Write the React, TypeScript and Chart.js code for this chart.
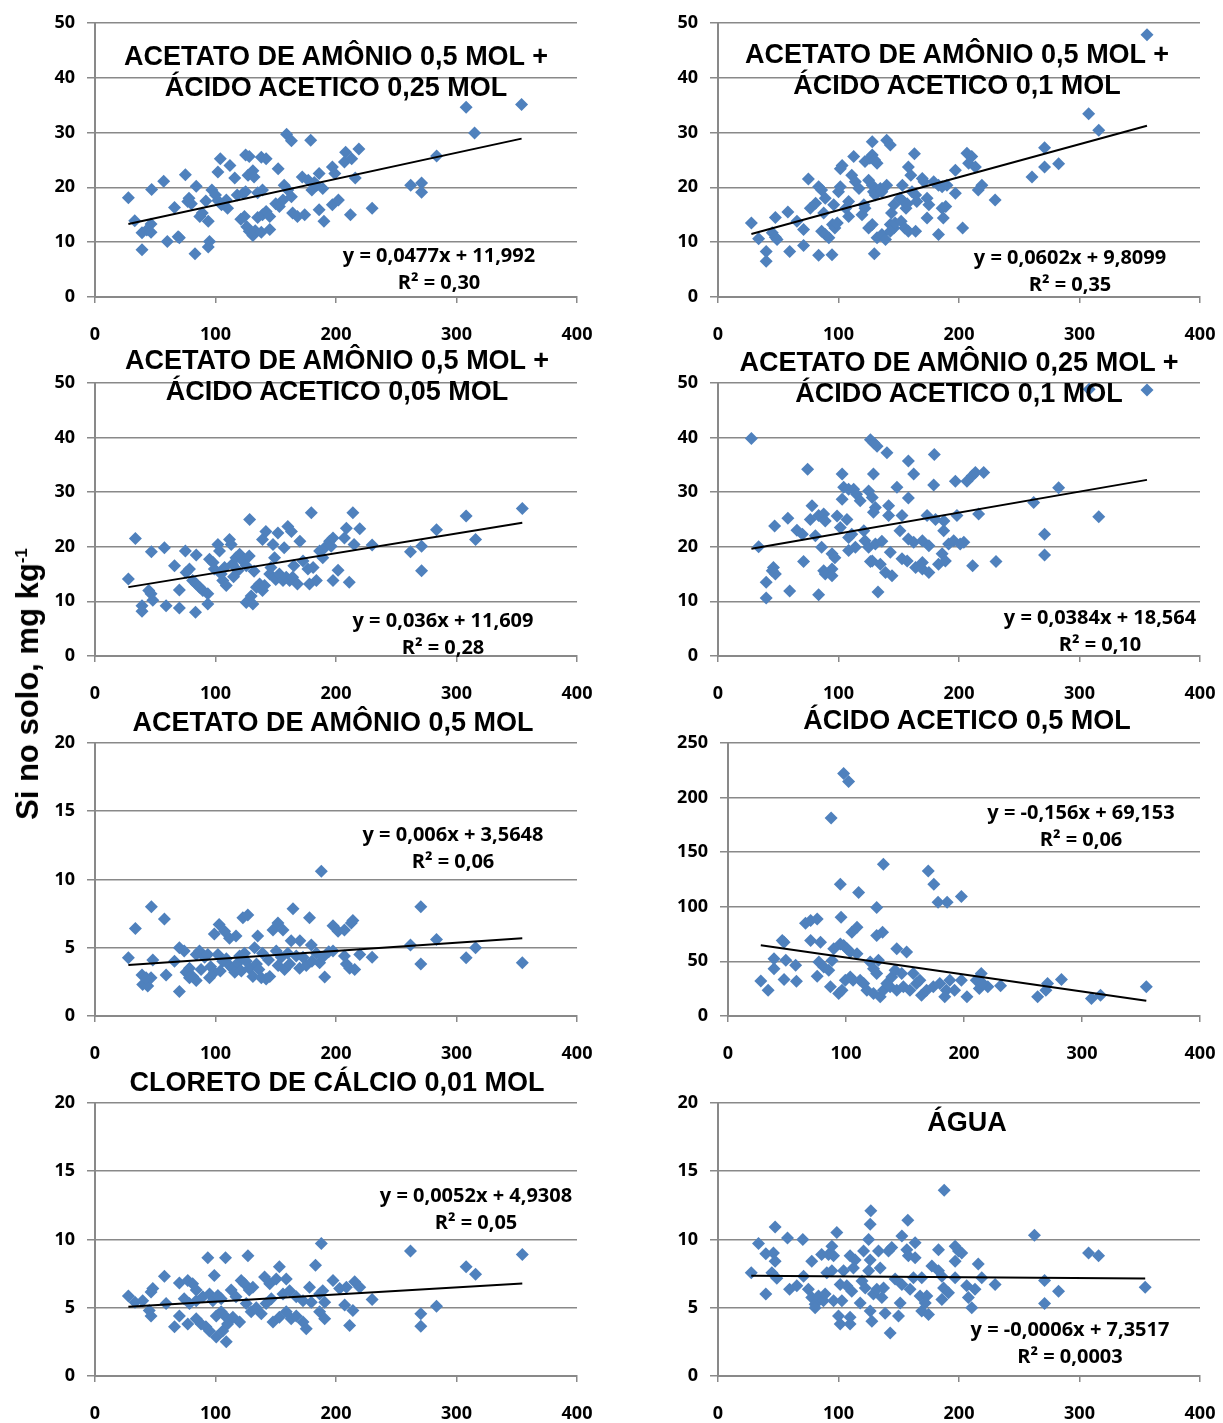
import React, { useEffect, useRef } from 'react';
import { Chart, registerables } from 'chart.js';

Chart.register(...registerables);

// ---------- DATA ----------
const titles: string[][] = [
  ['ACETATO DE AMÔNIO 0,5 MOL +', 'ÁCIDO ACETICO 0,25 MOL'],
  ['ACETATO DE AMÔNIO 0,5 MOL +', 'ÁCIDO ACETICO 0,1 MOL'],
  ['ACETATO DE AMÔNIO 0,5 MOL +', 'ÁCIDO ACETICO 0,05 MOL'],
  ['ACETATO DE AMÔNIO 0,25 MOL +', 'ÁCIDO ACETICO 0,1 MOL'],
  ['ACETATO DE AMÔNIO 0,5 MOL'],
  ['ÁCIDO ACETICO 0,5 MOL'],
  ['CLORETO DE CÁLCIO 0,01 MOL'],
  ['ÁGUA'],
];

const slopes = [0.0477, 0.0602, 0.036, 0.0384, 0.006, -0.156, 0.0052, -0.0006];
const intercepts = [11.992, 9.8099, 11.609, 18.564, 3.5648, 69.153, 4.9308, 7.3517];
const equationLabels = [
  'y = 0,0477x + 11,992',
  'y = 0,0602x + 9,8099',
  'y = 0,036x + 11,609',
  'y = 0,0384x + 18,564',
  'y = 0,006x + 3,5648',
  'y = -0,156x + 69,153',
  'y = 0,0052x + 4,9308',
  'y = -0,0006x + 7,3517',
];
const r2Labels = ['R² = 0,30', 'R² = 0,35', 'R² = 0,28', 'R² = 0,10', 'R² = 0,06', 'R² = 0,06', 'R² = 0,05', 'R² = 0,0003'];

const yMaxes = [50, 50, 50, 50, 20, 250, 20, 20];
const ySteps = [10, 10, 10, 10, 5, 50, 5, 5];
const xMin = 0;
const xMax = 400;
const xStep = 100;
const yAxisTitle = 'Si no solo, mg kg';

const p1: number[][] = [[27.7,18.1],[33,13.9],[39,11.7],[39,8.6],[43,12.2],[46.5,13.3],[46.5,11.8],[47,19.6],[57,21.1],[60,10.1],[66,16.3],[69,11],[70,10.8],[75,22.3],[77,17.4],[78,18],[80,17],[84,20.2],[83,7.9],[87,14.7],[89,15.3],[92,17.5],[94,13.8],[95,10.1],[94,9.1],[97,19.5],[100,18.6],[102,17.6],[102,22.8],[104,25.2],[112,24],[109,17.7],[110,16.2],[105,16.8],[116,21.7],[118,18.6],[123,18.9],[125,19.2],[125,25.9],[128,25.6],[127,22.2],[131,23],[132,21.9],[121,14.2],[124,14.7],[126,12.8],[128,12],[131,11.2],[133,12.1],[135,19],[138,25.5],[142,25.2],[139,19.5],[135,14.5],[139,15],[142,15.6],[145,14.7],[145,12.3],[138,11.8],[152,23.4],[150,17],[153,16.5],[156,17.7],[159,29.7],[163,28.5],[157,20.4],[160,19.5],[163,18.3],[164,15.3],[168,14.7],[174,15],[172,21.9],[177,21.3],[179,28.6],[180,19.5],[184,20.4],[189,19.8],[186,22.5],[182,20.9],[186,15.9],[190,13.8],[197,23.7],[199,22.5],[197,16.8],[202,17.7],[208,26.4],[207,24.6],[213,25.2],[212,15],[216,21.7],[219,27],[230,16.2],[262,20.4],[271,20.8],[271,19.1],[283.5,25.7],[308,34.6],[315,29.9],[354,35.1]];

const p2: number[][] = [[27.7,13.5],[33.7,10.6],[40,8.3],[40,6.5],[45,11.7],[47.6,10.9],[49,10.5],[47.6,14.5],[58,15.5],[59.5,8.3],[65.5,13.8],[71,12.3],[71,9.4],[75,21.5],[76.6,16.2],[81,17.1],[83.5,20.1],[86,19.5],[86,12],[89,11.4],[92,10.8],[83.5,7.6],[94.6,7.7],[87.7,15.3],[89,18],[95,13.2],[97,12.6],[99,13.5],[96,16.8],[100,19.2],[101.5,20.1],[103,24],[101.5,23.4],[106,16.2],[108.4,17.4],[108.4,14.7],[111,22.2],[114,21],[117,19.8],[112.6,25.6],[119.5,15],[122,16.2],[121,16.8],[122,24.7],[126,25.3],[128,25.9],[130,25],[132,24.4],[128,28.3],[125,21.3],[128,20.4],[129,19.2],[130.5,18.6],[125,12.6],[128,13.2],[129.7,7.9],[132,10.8],[136,11.4],[139,10.5],[134.7,19.8],[136,19.2],[140,20.4],[140,28.6],[143,27.7],[143,13.2],[146,12.6],[143,12],[147,13.5],[144,15.3],[146,16.8],[151,18],[153,20.4],[154,17.4],[156,16.2],[157,17],[152,13.8],[155,12.6],[158,12],[164,12],[158,23.7],[160,22.2],[163,26.1],[161,19.2],[164,18.6],[165,17.4],[169.5,21.6],[171,21],[173.5,18],[175,16.8],[173.5,14.4],[179,21],[183,20.4],[186,20.1],[190,20.4],[183,11.4],[186,16.2],[189,16.5],[187,14.4],[197,23.1],[197,18.9],[203,12.6],[206.6,26.2],[210.6,25.6],[208,24.4],[213.6,23.7],[216,19.5],[219,20.4],[230,17.7],[260.6,21.9],[271,27.2],[271,23.7],[282.7,24.3],[307.6,33.4],[316,30.4],[356,47.8]];

const p3: number[][] = [[27.7,14.1],[33.5,21.5],[39,9.2],[39,8.2],[44.6,12],[46.5,11.4],[48,10.2],[46.8,19.1],[57.6,19.8],[59,9.2],[66,16.5],[70,12.1],[70,8.8],[75,19.2],[75.6,15.3],[78.4,15.9],[81,13.8],[84,13.2],[83.4,8],[84,18.5],[86.7,12.6],[89.5,12],[93.6,11.4],[93.6,9.5],[95,17.7],[98,17.1],[99,15.9],[102,20.4],[103.3,19.2],[104.7,15],[106,13.8],[108.9,12.9],[107.5,16.2],[111.6,21.3],[113,20.4],[114,16.8],[117,18],[120,18.6],[118.6,15.6],[115,14.5],[122.7,17.4],[125.5,16.5],[128,18.3],[128.3,25],[125.5,9.8],[131,9.5],[129.6,11],[132,15.5],[134,12.6],[136.6,13.2],[139,12],[140.7,12.9],[139,21.3],[141.8,22.8],[145,15],[146,16.2],[147.7,20.4],[149,18],[150,14],[151.8,22.5],[153,15],[156,13.8],[158.7,14.4],[160,23.7],[157,19.8],[163,22.8],[161.5,13.8],[164,14.4],[165,16.5],[168,13.2],[170,21],[172.6,17.4],[176.7,15.9],[178,13.2],[179.5,26.2],[181,16.2],[183.7,13.8],[186.4,19.2],[189,18],[190.6,19.8],[194.7,21],[196,20.1],[197.5,21.6],[197.5,13.8],[201.7,15.7],[207,21.6],[208.6,23.4],[214,26.2],[215,20.4],[211,13.5],[219.7,23.3],[230,20.3],[261.8,19.1],[271,20.1],[271,15.6],[283.4,23.1],[308,25.6],[315.8,21.3],[354.6,27]];

const p4: number[][] = [[27.7,39.8],[33.7,20],[40,13.5],[40,10.6],[47,23.8],[45,15.6],[47.6,15],[46,16.2],[58,25.2],[59.5,11.9],[65.5,23],[70,22.3],[71,17.3],[74.4,34.2],[78,27.5],[76.6,25],[80.8,22],[83.5,25.7],[87.7,26],[89,24.7],[83.5,11.2],[86,19.9],[87.7,15.6],[89,15],[94.6,18.7],[97,18],[94.6,15.9],[94.6,14.7],[98.8,25.6],[101.5,23.5],[103,28.7],[107,25],[103,33.3],[104.3,30.9],[108.4,30.5],[112.6,30.5],[115,29.6],[108.4,21.7],[111,22.3],[114,19.9],[108.4,19.3],[118,28.4],[121,22.9],[126.5,39.6],[129.3,39],[132,38.4],[125,30.2],[128,29],[129,33.3],[130.6,27.2],[129,26.3],[122,21.1],[125,19.9],[130.6,20.5],[128,17.4],[126.5,17.3],[132.8,11.7],[134.7,16.8],[139,15.3],[144.4,14.7],[136,21],[140.2,37.2],[141.6,27.5],[141.6,25.7],[143,19],[148.5,30.9],[152.7,25.7],[151,22.9],[152.7,17.8],[157,17.4],[158,35.7],[162.4,33.3],[158,28.9],[158,21.4],[162.4,20.8],[164,16.2],[169.6,15.9],[169.6,21.1],[175,20.2],[175,15.3],[169.6,17.1],[173.5,25.7],[180.5,25],[187.5,24.7],[179.5,36.9],[179,31.3],[183,16.8],[186,18.7],[188.7,17.4],[187.3,22.9],[191.4,20.5],[195.6,21.1],[201,20.5],[204,20.8],[197,32],[198.3,25.7],[206.6,32],[211,33],[213.6,33.6],[220.5,33.6],[211.3,16.5],[216.3,26],[230.7,17.3],[262,28.1],[271,22.3],[271,18.5],[282.7,30.8],[308,48.8],[316,25.5],[356,48.7]];

const p5: number[][] = [[27.7,4.27],[33.5,6.4],[39,3],[39.6,2.3],[43.8,2.2],[46.5,2.8],[48,4.1],[42.4,2.8],[46.8,8],[57.6,7.1],[59,3],[66,4],[70,5],[74,4.75],[70,1.8],[75.6,3.2],[78.4,3.5],[81,2.9],[84,2.6],[78.4,2.8],[84,4.5],[86.7,4.75],[88,3.4],[91,4.3],[93.6,4.5],[95,2.8],[96,3.6],[99,3.2],[102,4.5],[99,6],[103,6.7],[104,3.3],[107.5,6.2],[109,4.2],[111.6,5.7],[117,5.85],[106,4],[111.6,3.7],[114,3.5],[116,3.2],[118.6,3.9],[120,4.4],[121.4,3.3],[122.7,7.2],[124,4.6],[126.8,7.4],[125.5,4],[128,3.5],[131,2.9],[134,3.8],[135,5.85],[132.4,5],[136,3.4],[139,4.6],[138,2.8],[142,2.7],[144,4.1],[145,2.9],[147.7,6.3],[151.8,6.8],[152,3.7],[156,6.3],[150.4,4.75],[154.6,4.3],[157.3,3.4],[160,4.6],[161.5,3.8],[162.8,5.5],[164.3,7.85],[167,4.4],[169.8,3.5],[170,5.5],[172.6,4.3],[175.3,3.7],[178,7.2],[179.5,5.2],[180,4],[183.7,4.6],[186.4,3.9],[189,4.3],[187.8,10.6],[190.6,2.85],[194,4.7],[197.5,6.6],[201.7,6.2],[207,6.3],[212.7,6.8],[214,7],[197.5,4.75],[207,4.4],[208.6,3.8],[211.3,3.5],[215.5,3.4],[219.7,4.5],[230,4.3],[261.8,5.2],[270.4,8],[270.4,3.8],[283.4,5.6],[308,4.27],[315.8,5],[354.6,3.9]];

const p6: number[][] = [[27.8,32.1],[34,23.6],[39,52.4],[39,43.3],[47.5,67.6],[46,69],[49,51],[47.5,33.3],[57.3,46.4],[58,31.8],[65.7,84.8],[70,87.3],[75.6,88.8],[70,69],[78.4,67.6],[75.6,36.4],[77,49.4],[81.2,44.8],[85.4,41.8],[86.8,26.7],[88.2,50.9],[87.4,181.2],[89.6,61.5],[95.2,66],[98,64.5],[100.8,61.5],[103.6,58.5],[93.8,20.6],[96.6,23.6],[99.4,32.7],[103.6,35.8],[95.2,120.6],[95.8,90.3],[98,222],[102.2,214.5],[105,76.7],[109.3,81.2],[109.3,57],[110.7,113],[106,32.7],[112,32.7],[115,29.7],[120.5,49.4],[123.3,43.3],[126,38.8],[127.5,51],[126,99.4],[126,73.6],[131,76.7],[131.7,138.8],[117.7,23.6],[123.3,20.6],[129,17.6],[131.7,23.6],[134.6,29.7],[137.4,26.7],[138.8,35.8],[141.6,41.8],[143,61.5],[147.2,38.8],[151.4,58.5],[143,23.6],[148.6,26.7],[154.2,23.6],[159.8,29.7],[164,19],[168.3,23.6],[157,38.8],[162.6,32.7],[169.7,132.7],[174.4,120.6],[178,104],[185.7,104],[197.8,109.4],[174,26.7],[179.5,29.7],[185,23.6],[188,32.7],[192,23.6],[183.7,17.6],[197.8,32.7],[202.5,17.6],[210.4,32.7],[214.6,38.8],[213,25.2],[220.2,26.7],[216,29.7],[231,27.6],[262.4,17.6],[270.8,29.7],[269.4,23.6],[282.6,33.3],[308,16],[315.7,19],[354.5,26.7]];

const p7: number[][] = [[27.7,5.85],[33.2,5.4],[39.6,5.5],[46.5,6.15],[48,6.4],[46.5,4.4],[45,4.8],[57.6,7.3],[59,5.3],[66,3.6],[70,4.4],[77,3.8],[70,6.8],[77,7],[81,6.75],[84,6.3],[74,5.65],[78.4,5.3],[84,5.5],[84,4.2],[88,3.8],[92,3.6],[95,3.3],[93.6,8.65],[99,7.35],[89.5,5.8],[95,6],[97.8,5.5],[102,5.9],[104.7,5.65],[100.6,2.85],[108.9,2.5],[106,3.3],[110,3.8],[100.6,4.4],[104.7,4.7],[108.9,4.3],[114.4,4.3],[120,3.95],[108.3,8.65],[126.9,8.8],[113,6.3],[117,5.8],[121.3,7],[124,6.75],[128,6.3],[131,6.5],[125.5,5.3],[129.6,4.7],[133.8,5],[138,4.55],[142,5.3],[146.3,5.65],[140.7,7.25],[145,6.75],[150.4,7.1],[153,8],[158.7,7.1],[147.7,3.95],[153,4.3],[158.7,4.7],[162.8,4.2],[167,4.4],[172.6,3.95],[175.3,3.45],[156,6],[161.5,6.25],[167,5.8],[172.6,5.5],[178,6.5],[179.5,5.4],[183,8.1],[187.8,9.7],[186.4,4.7],[190.6,4.2],[190.6,5.4],[186.4,6],[189,6.25],[197.5,7],[203,6.4],[208.6,6.5],[215.5,6.9],[219.7,6.5],[207.2,5.2],[214,4.8],[211.3,3.7],[230,5.6],[261.8,9.15],[270.4,4.55],[270.4,3.65],[283.4,5.1],[308,8],[315.8,7.45],[354.6,8.9]];

const p8: number[][] = [[27.6,7.55],[33.6,9.7],[39.7,8.95],[39.7,6],[44.7,7.55],[46,9],[47.4,8.4],[48.8,7.15],[47.4,10.9],[57.7,10.1],[59.4,6.35],[65.4,6.6],[70.4,10],[71,7.3],[75,6.35],[77.8,8.4],[77.8,5.75],[80.6,5.25],[83.4,5.85],[80.6,5],[86,8.9],[87.5,5.5],[88.9,6],[90.3,7.55],[91.7,8.9],[94.5,9.5],[95.9,8.8],[94.5,7.7],[98.6,10.5],[95.9,5.5],[101.4,6.7],[102.8,5.5],[104.2,7.7],[100,4.4],[101.4,3.8],[109.6,4.3],[109.6,3.8],[106.9,6.6],[109.6,8.8],[111,6.2],[113.8,8.5],[112.4,7.9],[118,5.35],[119.5,6.95],[120.8,9.15],[122.2,6.45],[125,7.7],[126.3,8.5],[125,10],[126.3,11.1],[126.8,12.1],[126.3,4.75],[127.7,4],[129,6],[131.8,6.35],[133.2,9.15],[134.6,7.9],[136,5.75],[138.7,4.6],[137.4,6.45],[141.5,9.15],[144.2,9.4],[142.9,3.15],[147,7.1],[149.8,4.4],[151.2,5.35],[152.6,10.25],[152.6,6.7],[156.7,9.25],[157.5,11.4],[158,8.8],[159.4,6.35],[163.6,9.75],[163.6,8.65],[162.2,7.2],[167.7,5.85],[169.1,7.2],[169.1,4.75],[173.3,5.85],[174.7,4.5],[172,5.35],[177.5,8.05],[183,9.25],[183,7.7],[185.8,7.3],[187.2,6.45],[185.8,5.6],[191.3,6.1],[187.7,13.6],[196.8,9.5],[199.6,9.15],[202.3,9],[196.8,8.4],[196.8,7.2],[206.4,6.6],[207.8,5.75],[210.6,5],[213.3,6.35],[216,8.2],[218.9,7.2],[230,6.7],[262.6,10.3],[271,7],[271,5.3],[282.6,6.2],[307.5,9],[315.8,8.8],[354.5,6.5]];

const series = [p1, p2, p3, p4, p5, p6, p7, p8];

// ---------- LAYOUT (page pixels) ----------
type Box = { left: number; top: number; w: number; h: number; pl: number; pr: number; pt: number; pb: number };
const boxes: Box[] = [
  { left: 0, top: 0, w: 625, h: 360, pl: 95, pr: 577, pt: 22, pb: 297 },
  { left: 612, top: 0, w: 640, h: 360, pl: 718, pr: 1200, pt: 22, pb: 297 },
  { left: 0, top: 360, w: 625, h: 360, pl: 95, pr: 577, pt: 382, pb: 656 },
  { left: 612, top: 360, w: 640, h: 360, pl: 718, pr: 1200, pt: 382, pb: 656 },
  { left: 0, top: 720, w: 625, h: 360, pl: 95, pr: 577, pt: 742, pb: 1016 },
  { left: 612, top: 720, w: 640, h: 360, pl: 728, pr: 1200, pt: 742, pb: 1016 },
  { left: 0, top: 1080, w: 625, h: 343, pl: 95, pr: 577, pt: 1102, pb: 1376 },
  { left: 612, top: 1080, w: 640, h: 343, pl: 718, pr: 1200, pt: 1102, pb: 1376 },
];
const titlePos = [[336, 56], [957, 54], [337, 360], [959, 362], [333, 722], [967, 720], [337, 1082], [967, 1122]];
const eqPos = [[439, 254], [1070, 256], [443, 619], [1100, 616], [453, 833], [1081, 811], [476, 1194], [1070, 1328]];

const AXIS_GRAY = '#898989';
const MARKER = '#4F81BD';
const NUM_FONT = '"Open Sans", Lato, sans-serif';
const TICK_FONT = { family: NUM_FONT, weight: 'bold' as const, size: 18 };

function Panel({ idx }: { idx: number }) {
  const ref = useRef<HTMLCanvasElement | null>(null);
  const b = boxes[idx];
  useEffect(() => {
    if (!ref.current) return;
    const pts = series[idx];
    const xs = pts.map((p) => p[0]);
    const lo = Math.min(...xs);
    const hi = Math.max(...xs);
    const trend = [lo, hi].map((x) => ({ x, y: slopes[idx] * x + intercepts[idx] }));
    const chart = new Chart(ref.current, {
      type: 'scatter',
      data: {
        datasets: [
          {
            type: 'line',
            data: trend,
            borderColor: '#000',
            borderWidth: 2,
            pointRadius: 0,
            fill: false,
            order: 0,
          } as any,
          {
            data: pts.map((p) => ({ x: p[0], y: p[1] })),
            pointStyle: 'rectRot',
            pointRadius: 6.5,
            pointHoverRadius: 6.5,
            backgroundColor: MARKER,
            borderColor: MARKER,
            borderWidth: 0,
            clip: false,
            order: 1,
          } as any,
        ],
      },
      options: {
        animation: false,
        responsive: false,
        devicePixelRatio: 1,
        events: [],
        layout: {
          autoPadding: false,
          padding: { left: 0, top: b.pt - b.top, right: b.left + b.w - b.pr, bottom: 0 },
        },
        plugins: { legend: { display: false }, tooltip: { enabled: false }, title: { display: false } },
        scales: {
          x: {
            type: 'linear',
            min: xMin,
            max: xMax,
            ticks: { stepSize: xStep, color: '#000', font: TICK_FONT, padding: 21, maxRotation: 0 },
            grid: { drawOnChartArea: false, drawTicks: true, tickLength: 6, color: AXIS_GRAY, lineWidth: 1.5 },
            border: { color: AXIS_GRAY, width: 2 },
            afterFit: (s: any) => {
              s.height = b.top + b.h - b.pb;
            },
          },
          y: {
            type: 'linear',
            min: 0,
            max: yMaxes[idx],
            ticks: { stepSize: ySteps[idx], color: '#000', font: TICK_FONT, padding: 12 },
            grid: { color: AXIS_GRAY, lineWidth: 1.5, tickLength: 8 },
            border: { color: AXIS_GRAY, width: 2 },
            afterFit: (s: any) => {
              s.width = b.pl - b.left;
            },
          },
        },
      } as any,
    });
    return () => chart.destroy();
  }, [idx]);
  return (
    <canvas
      ref={ref}
      width={b.w}
      height={b.h}
      style={{ position: 'absolute', left: b.left, top: b.top, width: b.w, height: b.h }}
    />
  );
}

const titleStyle: React.CSSProperties = {
  position: 'absolute',
  transform: 'translate(-50%, -50%)',
  fontFamily: '"Liberation Sans", Arial, sans-serif',
  fontWeight: 'bold',
  fontSize: 27,
  lineHeight: '31px',
  whiteSpace: 'nowrap',
  textAlign: 'center',
  color: '#000',
};
const eqStyle: React.CSSProperties = {
  position: 'absolute',
  transform: 'translate(-50%, -50%)',
  fontFamily: NUM_FONT,
  fontWeight: 'bold',
  fontSize: 20,
  lineHeight: '27px',
  whiteSpace: 'nowrap',
  textAlign: 'center',
  color: '#000',
};

export default function App() {
  return (
    <div style={{ position: 'absolute', left: 0, top: 0, width: 1223, height: 1423, background: '#fff', overflow: 'hidden' }}>
      {boxes.map((_, i) => (
        <Panel key={'p' + i} idx={i} />
      ))}
      {titles.map((lines, i) => (
        <div key={'t' + i} style={{ ...titleStyle, left: titlePos[i][0], top: titlePos[i][1] + (lines.length - 1) * 15.5 }}>
          {lines.map((l, j) => (
            <div key={j}>{l}</div>
          ))}
        </div>
      ))}
      {equationLabels.map((eq, i) => (
        <div key={'e' + i} style={{ ...eqStyle, left: eqPos[i][0], top: eqPos[i][1] + 13.5 }}>
          <div>{eq}</div>
          <div>{r2Labels[i]}</div>
        </div>
      ))}
      <div
        style={{
          position: 'absolute',
          left: 28,
          top: 684,
          transform: 'translate(-50%, -50%) rotate(-90deg)',
          fontFamily: '"Liberation Sans", Arial, sans-serif',
          fontWeight: 'bold',
          fontSize: 31,
          whiteSpace: 'nowrap',
          color: '#000',
        }}
      >
        {yAxisTitle}
        <sup style={{ fontSize: 17 }}>-1</sup>
      </div>
    </div>
  );
}
